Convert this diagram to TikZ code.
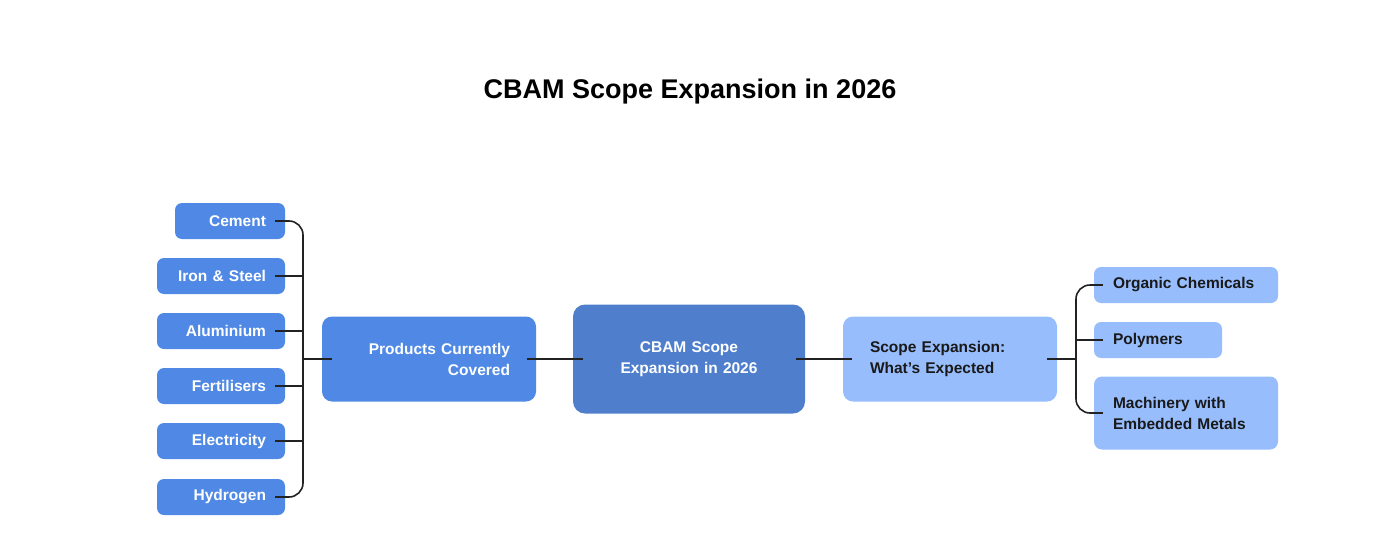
\documentclass[tikz,border=0pt]{standalone}
\usepackage{fontspec}
\setmainfont{Liberation Sans}
\definecolor{midblue}{HTML}{4F89E5}
\definecolor{darkblue}{HTML}{4F7FCC}
\definecolor{lightblue}{HTML}{97BDFD}
\definecolor{linkgray}{HTML}{222222}
\tikzset{
	box/.style={rounded corners=7pt, inner ysep=0pt, font=\bfseries\fontsize{15.5}{21}\selectfont},
	product/.style={box, fill=midblue, text=white, align=right, inner xsep=19pt, minimum height=36pt},
	future/.style={box, fill=lightblue, text=black!90, align=left, inner xsep=19pt, minimum height=36pt},
	link/.style={draw=linkgray, line width=1.6pt}
}

\begin{document}
\begin{tikzpicture}[x=1pt,y=-1pt]
	\useasboundingbox (0,0) rectangle (1384,546);
	\node[font=\bfseries\fontsize{27}{32}\selectfont] (title) at (690,92) {CBAM Scope Expansion in 2026};

% left: products covered today
\node[product, text width=72pt] (cement) at (230,221) {Cement};
\node[product, text width=90pt] (iron) at (221,276) {Iron \& Steel};
\node[product, text width=90pt] (alu) at (221,331) {Aluminium};
\node[product, text width=90pt] (fert) at (221,386) {Fertilisers};
\node[product, text width=90pt] (elec) at (221,441) {Electricity};
\node[product, text width=90pt] (hydro) at (221,497) {Hydrogen};
\node[box, fill=midblue, text=white, align=right, inner xsep=26pt, text width=162pt, minimum height=85pt, rounded corners=10pt] (products) at (429,359) {Products Currently\\Covered};

% middle
\node[box, fill=darkblue, text=white, align=center, inner xsep=20pt, text width=192pt, minimum height=109pt, rounded corners=12pt] (cbam) at (689,359) {CBAM Scope\\Expansion in 2026};

% right: expected expansion
\node[box, fill=lightblue, text=black!90, align=left, inner xsep=27pt, text width=160pt, minimum height=85pt, rounded corners=10pt] (expected) at (950,359) {Scope Expansion:\\What’s Expected};
\node[future, text width=146pt] (organic) at (1186,285) {Organic Chemicals};
\node[future, text width=90pt] (polymers) at (1158,340) {Polymers};
\node[future, text width=146pt, minimum height=73pt, rounded corners=8pt] (machinery) at (1186,413) {Machinery with\\Embedded Metals};

\coordinate (lbus) at (303,359);
\coordinate (rbus) at (1076,349);

\draw[link, rounded corners=14pt] ([xshift=-10pt]cement.east) -| (lbus) |- ([xshift=-10pt]hydro.east);
\foreach \n in {iron,alu,fert,elec}
	\draw[link] ([xshift=-10pt]\n.east) -- (\n.east -| lbus);
\draw[link] (lbus) -- ([xshift=10pt]products.west);
\draw[link] ([xshift=-9pt]products.east) -- ([xshift=10pt]cbam.west);
\draw[link] ([xshift=-9pt]cbam.east) -- ([xshift=9pt]expected.west);
\draw[link] ([xshift=-10pt]expected.east) -- (expected.east -| rbus);
\draw[link, rounded corners=14pt] ([xshift=9pt]organic.west) -| (rbus) |- ([xshift=9pt]machinery.west);
\draw[link] ([xshift=9pt]polymers.west) -- (polymers.west -| rbus);
	\end{tikzpicture}
\end{document}
